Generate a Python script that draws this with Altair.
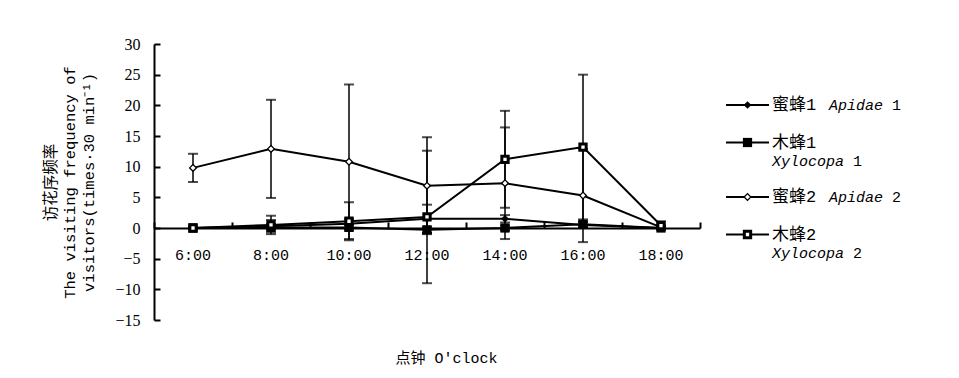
import altair as alt
import pandas as pd

# ---------------- data ----------------
times = ["6:00", "8:00", "10:00", "12:00", "14:00", "16:00", "18:00"]
series_keys = ["Apidae 1", "Xylocopa 1", "Apidae 2", "Xylocopa 2"]

apidae1 = [0.0, 0.3, 0.7, 1.5, 1.5, 0.5, 0.0]
apidae1_err = [0.2, 1.0, 0.8, 2.3, 0.6, 0.5, 0.2]
xylocopa1 = [0.0, 0.1, 0.1, -0.3, 0.0, 0.6, 0.0]
xylocopa1_err = [0.0, 0.4, 0.5, 0.5, 0.4, 0.4, 0.0]
apidae2 = [9.8, 12.9, 10.8, 6.9, 7.3, 5.3, 0.1]
apidae2_err = [2.3, 8.0, 12.6, 7.9, 9.1, 7.6, 0.2]
xylocopa2 = [0.0, 0.5, 1.1, 1.8, 11.2, 13.2, 0.4]
xylocopa2_err = [0.0, 1.5, 3.1, 10.8, 7.9, 11.8, 0.7]

y_ticks = [-15, -10, -5, 0, 5, 10, 15, 20, 25, 30]

legend_cn = ["蜜蜂1", "木蜂1", "蜜蜂2", "木蜂2"]
legend_latin = ["Apidae", "Xylocopa", "Apidae", "Xylocopa"]
legend_num = ["1", "1", "2", "2"]
legend_wrap = [False, True, False, True]

y_title = ["访花序频率", "The visiting frequency of", "visitors(times·30 min⁻¹)"]
x_title = "点钟 O′clock"

# ---------------- table ----------------
vals = [apidae1, xylocopa1, apidae2, xylocopa2]
errs = [apidae1_err, xylocopa1_err, apidae2_err, xylocopa2_err]
rows = []
for s, v, e in zip(series_keys, vals, errs):
    for t, vi, ei in zip(times, v, e):
        rows.append({"series": s, "time": t, "value": vi, "lo": vi - ei, "hi": vi + ei})
df = pd.DataFrame(rows)

W, H = 546, 276
MONO = "Liberation Mono, Noto Sans CJK SC"

xscale = alt.Scale(type="band", domain=times, paddingInner=0, paddingOuter=0)
yscale = alt.Scale(domain=[-15, 30], nice=False, zero=False)

x_bottom = alt.Axis(orient="bottom", offset=-92, domain=False, ticks=False, grid=False,
                    labelAngle=0, labelPadding=19, labelFont=MONO, labelFontSize=15,
                    labelColor="black", title=x_title, titleFont=MONO, titleFontSize=15,
                    titleFontWeight="normal", titleColor="black", titleY=122, titleX=292)
x_top = alt.Axis(orient="top", offset=-184, labels=False, ticks=True, tickBand="extent",
                 tickSize=6, tickWidth=2, tickColor="black", domain=True, domainColor="black",
                 domainWidth=2, grid=False, title=None)
y_left = alt.Axis(orient="left", domain=False, ticks=False, grid=False, values=y_ticks,
                  labelPadding=14, labelFont="Liberation Serif", labelFontSize=16,
                  labelColor="black", title=y_title, titleFont=MONO, titleFontSize=15.5,
                  titleFontWeight="normal", titleColor="black", titleLineHeight=19,
                  titlePadding=18)
y_right = alt.Axis(orient="right", offset=-W, labels=False, ticks=True, values=y_ticks,
                   tickSize=6, tickWidth=2, tickColor="black", domain=True,
                   domainColor="black", domainWidth=2, grid=False, title=None)

base = alt.Chart(df)

lines = base.mark_line(color="black", strokeWidth=2).encode(
    x=alt.X("time:N", scale=xscale, axis=x_bottom, sort=times),
    y=alt.Y("value:Q", scale=yscale, axis=y_left),
    detail="series:N",
)

rules = base.mark_rule(color="black", strokeWidth=1.5).encode(
    x=alt.X("time:N", scale=xscale, axis=x_top, sort=times),
    y=alt.Y("lo:Q", scale=yscale, axis=y_right),
    y2="hi:Q",
)
caps_lo = base.mark_tick(color="black", size=10, thickness=2).encode(
    x=alt.X("time:N", scale=xscale, axis=None, sort=times),
    y=alt.Y("lo:Q", scale=yscale, axis=None),
)
caps_hi = base.mark_tick(color="black", size=10, thickness=2).encode(
    x=alt.X("time:N", scale=xscale, axis=None, sort=times),
    y=alt.Y("hi:Q", scale=yscale, axis=None),
)

marker_style = {
    "Apidae 1": dict(shape="diamond", filled=True, fill="black", size=60, opacity=1),
    "Xylocopa 1": dict(shape="square", filled=True, fill="black", size=85, opacity=1),
    "Apidae 2": dict(shape="diamond", filled=True, fill="white", stroke="black", strokeWidth=1.3, size=45, opacity=1),
    "Xylocopa 2": dict(shape="square", filled=True, fill="white", stroke="black", strokeWidth=3, size=40, opacity=1),
}
points = []
for s in series_keys:
    points.append(
        base.transform_filter(alt.datum.series == s).mark_point(**marker_style[s]).encode(
            x=alt.X("time:N", scale=xscale, axis=None, sort=times),
            y=alt.Y("value:Q", scale=yscale, axis=None),
        )
    )

main = alt.layer(lines, rules, caps_lo, caps_hi, *points).properties(width=W, height=H)

# ---------------- legend ----------------
LW = 190
leg_rows, leg_text_n, leg_text_i = [], [], []
ypos = 61.0
for i in range(4):
    leg_rows.append({"series": series_keys[i], "y": ypos})
    leg_text_n.append({"x": 46, "y": ypos, "t": legend_cn[i], "size": 17})
    if legend_wrap[i]:
        lx, ly = 46, ypos + 18
    else:
        lx, ly = 103, ypos
    leg_text_i.append({"x": lx, "y": ly, "t": legend_latin[i]})
    leg_text_n.append({"x": lx + len(legend_latin[i]) * 9 + 9, "y": ly, "t": legend_num[i], "size": 15})
    ypos += 37.5 + (17 if legend_wrap[i] else 0)

lx_scale = alt.Scale(domain=[0, LW], nice=False, zero=False)
ly_scale = alt.Scale(domain=[0, H], nice=False, zero=False, reverse=True)

leg_df = pd.DataFrame(leg_rows)
leg_df["x0"] = 0
leg_df["x1"] = 43
leg_df["xm"] = 21.5

leg_lines = alt.Chart(leg_df).mark_rule(color="black", strokeWidth=2).encode(
    x=alt.X("x0:Q", scale=lx_scale, axis=None), x2="x1:Q",
    y=alt.Y("y:Q", scale=ly_scale, axis=None),
)
leg_points = []
for s in series_keys:
    st = dict(marker_style[s])
    leg_points.append(
        alt.Chart(leg_df).transform_filter(alt.datum.series == s).mark_point(**st).encode(
            x=alt.X("xm:Q", scale=lx_scale, axis=None),
            y=alt.Y("y:Q", scale=ly_scale, axis=None),
        )
    )
leg_n = alt.Chart(pd.DataFrame(leg_text_n)).mark_text(
    align="left", baseline="middle", font=MONO, color="black"
).encode(
    x=alt.X("x:Q", scale=lx_scale, axis=None),
    y=alt.Y("y:Q", scale=ly_scale, axis=None),
    text="t:N",
    size=alt.Size("size:Q", scale=None, legend=None),
)
leg_i = alt.Chart(pd.DataFrame(leg_text_i)).mark_text(
    align="left", baseline="middle", font="Liberation Mono", fontStyle="italic",
    fontSize=15, color="black"
).encode(
    x=alt.X("x:Q", scale=lx_scale, axis=None),
    y=alt.Y("y:Q", scale=ly_scale, axis=None),
    text="t:N",
)
legend = alt.layer(leg_lines, *leg_points, leg_n, leg_i).properties(width=LW, height=H)

chart = alt.hconcat(main, legend, spacing=24).properties(
    padding={"left": 43, "top": 36, "right": 5, "bottom": 5},
    background="white",
).configure_view(stroke=None)

chart.save("out.html", embed_options={"renderer": "svg", "actions": False})
